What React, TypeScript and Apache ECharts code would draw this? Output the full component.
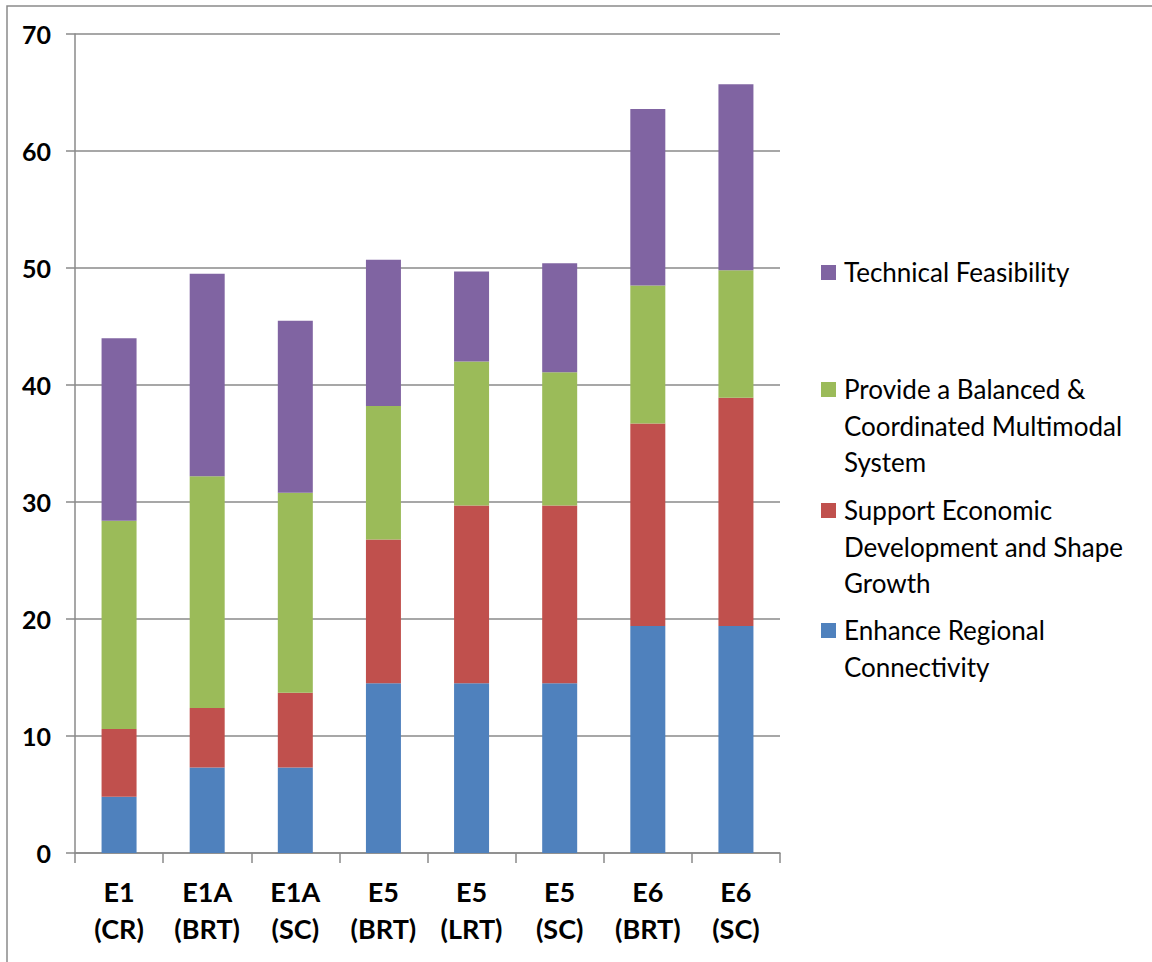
import React, { useEffect, useRef } from "react";
import * as echarts from "echarts";

// Alternatives along the x axis (two-line labels)
const categories = [
  "E1\n(CR)",
  "E1A\n(BRT)",
  "E1A\n(SC)",
  "E5\n(BRT)",
  "E5\n(LRT)",
  "E5\n(SC)",
  "E6\n(BRT)",
  "E6\n(SC)",
];

// Score contributed by each evaluation goal (stacked bottom to top)
const enhanceRegional = [4.8, 7.3, 7.3, 14.5, 14.5, 14.5, 19.4, 19.4];
const supportEconomic = [5.8, 5.1, 6.4, 12.3, 15.2, 15.2, 17.3, 19.5];
const balancedMultimodal = [17.8, 19.8, 17.1, 11.4, 12.3, 11.4, 11.8, 10.9];
const technicalFeasibility = [15.6, 17.3, 14.7, 12.5, 7.7, 9.3, 15.1, 15.9];

const seriesNames = [
  "Enhance Regional Connectivity",
  "Support Economic Development and Shape Growth",
  "Provide a Balanced & Coordinated Multimodal System",
  "Technical Feasibility",
];

// Legend entries as they wrap on the right side (top to bottom)
const legendLines = [
  ["Technical Feasibility"],
  ["Provide a Balanced &", "Coordinated Multimodal", "System"],
  ["Support Economic", "Development and Shape", "Growth"],
  ["Enhance Regional", "Connectivity"],
];

const colors = ["#4F81BD", "#C0504D", "#9BBB59", "#8064A2"];
const legendColors = ["#8064A2", "#9BBB59", "#C0504D", "#4F81BD"];
const legendBaselines = [280, 397, 518, 638];

const FONT = "Lato, 'Open Sans', sans-serif";

export default function App() {
  const ref = useRef<HTMLDivElement>(null);

  useEffect(() => {
    if (!ref.current) return;
    const chart = echarts.init(ref.current, null, { renderer: "svg" });

    const values = [enhanceRegional, supportEconomic, balancedMultimodal, technicalFeasibility];

    const legendGraphics: any[] = [];
    legendLines.forEach((lines, i) => {
      const base = legendBaselines[i];
      legendGraphics.push({
        type: "rect",
        shape: { x: 821, y: base - 15, width: 15, height: 15 },
        style: { fill: legendColors[i] },
        silent: true,
      });
      legendGraphics.push({
        type: "text",
        x: 844,
        y: base - 26,
        style: {
          text: lines.join("\n"),
          font: `26px ${FONT}`,
          fill: "#000",
          lineHeight: 36.5,
          verticalAlign: "top",
          align: "left",
        },
        silent: true,
      });
    });

    chart.setOption({
      animation: false,
      backgroundColor: "#fff",
      grid: { left: 75, right: 372, top: 34, bottom: 109, containLabel: false },
      xAxis: {
        type: "category",
        data: categories,
        axisLine: { show: true, lineStyle: { color: "#8a8a8a", width: 1.5 } },
        axisTick: { show: true, length: 10, alignWithLabel: false, lineStyle: { color: "#8a8a8a", width: 1.5 } },
        axisLabel: {
          color: "#000",
          fontFamily: FONT,
          fontWeight: "bold",
          fontSize: 27,
          lineHeight: 37,
          margin: 20,
          interval: 0,
        },
      },
      yAxis: {
        type: "value",
        min: 0,
        max: 70,
        interval: 10,
        axisLine: { show: true, lineStyle: { color: "#8a8a8a", width: 1.5 } },
        axisTick: { show: true, length: 9, lineStyle: { color: "#8a8a8a", width: 1.5 } },
        splitLine: { show: true, lineStyle: { color: "#8a8a8a", width: 1.5 } },
        axisLabel: {
          color: "#000",
          fontFamily: FONT,
          fontWeight: "bold",
          fontSize: 25,
          margin: 24,
        },
      },
      series: values.map((data, i) => ({
        name: seriesNames[i],
        type: "bar",
        stack: "total",
        barWidth: 35,
        data,
        itemStyle: { color: colors[i] },
      })),
      graphic: [
        {
          type: "rect",
          shape: { x: 7, y: 6, width: 1200, height: 1000 },
          style: { fill: "none", stroke: "#8a8a8a", lineWidth: 1.5 },
          silent: true,
        },
        ...legendGraphics,
      ],
    });

    return () => chart.dispose();
  }, []);

  return (
    <div
      ref={ref}
      style={{ position: "absolute", left: 0, top: 0, width: 1152, height: 962 }}
    />
  );
}
